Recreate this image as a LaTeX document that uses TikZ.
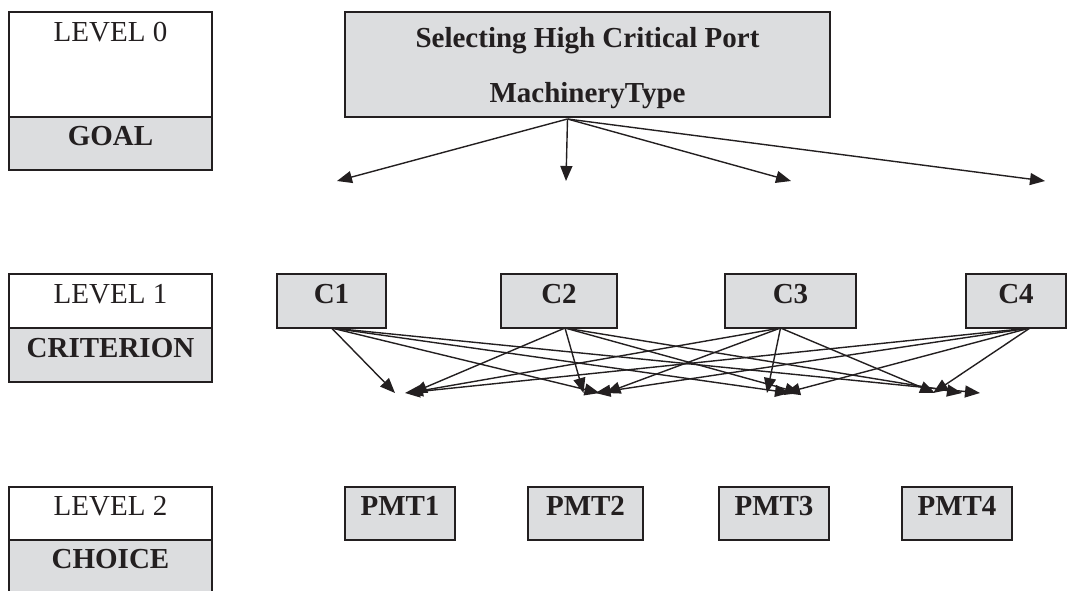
\documentclass[tikz,border=0pt]{standalone}
\usepackage{fontspec}
\setmainfont{Liberation Serif}
\usetikzlibrary{arrows.meta, positioning}
\definecolor{tinta}{HTML}{231F20}
\definecolor{grisbox}{HTML}{DCDDDF}
\tikzset{
  nivel/.style={rectangle, draw=tinta, line width=2pt, fill=white, outer sep=0pt,
    inner sep=0pt, minimum width=203pt, text depth=15pt, text=tinta,
    font=\fontsize{29}{34}\selectfont},
  etiqueta/.style={nivel, fill=grisbox, font=\fontsize{29}{34}\selectfont\bfseries},
  caja/.style={rectangle, draw=tinta, line width=2pt, fill=grisbox, outer sep=0pt,
    inner sep=0pt, text depth=15pt, text=tinta, anchor=north west,
    font=\fontsize{29}{34}\selectfont\bfseries},
  flecha/.style={-{Triangle[length=15pt,width=12pt]}, line width=1.4pt, tinta}
}
\begin{document}
\begin{tikzpicture}[x=1pt, y=-1pt]
  \useasboundingbox (0,0) rectangle (1069,591);

  % --- Niveles (columna izquierda) ---
  \node[nivel, anchor=north west, minimum height=105pt, text depth=66pt] (lvl0) at (9,12) {LEVEL 0};
  \node[etiqueta, below=0pt of lvl0, minimum height=53pt] (goal) {GOAL};
  \node[nivel, anchor=north west, minimum height=54pt] (lvl1) at (9,274) {LEVEL 1};
  \node[etiqueta, below=0pt of lvl1, minimum height=54pt] (criterion) {CRITERION};
  \node[nivel, anchor=north west, minimum height=53pt] (lvl2) at (9,487) {LEVEL 2};
  \node[etiqueta, below=0pt of lvl2, minimum height=53pt] (choice) {CHOICE};

  % --- Meta ---
  \node[caja, minimum width=485pt, minimum height=105pt, text depth=0pt, align=center,
    font=\fontsize{29}{55}\selectfont\bfseries] (meta) at (345,12)
    {Selecting High Critical Port\\MachineryType};

  % --- Criterios ---
  \node[caja, minimum width=109pt, minimum height=54pt] (c1) at (277,274) {C1};
  \node[caja, minimum width=116pt, minimum height=54pt] (c2) at (501,274) {C2};
  \node[caja, minimum width=131pt, minimum height=54pt] (c3) at (725,274) {C3};
  \node[caja, minimum width=100pt, minimum height=54pt] (c4) at (966,274) {C4};

  % --- Alternativas ---
  \node[caja, minimum width=110pt, minimum height=53pt] (pmt1) at (345,487) {PMT1};
  \node[caja, minimum width=115pt, minimum height=53pt] (pmt2) at (528,487) {PMT2};
  \node[caja, minimum width=110pt, minimum height=53pt] (pmt3) at (719,487) {PMT3};
  \node[caja, minimum width=110pt, minimum height=53pt] (pmt4) at (902,487) {PMT4};

  % --- Puntos libres de las flechas ---
  \coordinate (hub) at ([xshift=-20pt,yshift=-2pt]meta.south);
  \coordinate (g1) at (337,181);
  \coordinate (g2) at (566,181);
  \coordinate (g3) at (791,181);
  \coordinate (g4) at (1045,181);
  \coordinate (s1) at (c1.south);
  \coordinate (s2) at ([xshift=6pt]c2.south);
  \coordinate (s3) at ([xshift=-10pt]c3.south);
  \coordinate (s4) at ([xshift=14pt]c4.south);
  \coordinate (in1) at ([yshift=94pt]pmt1.north);
  \coordinate (in2) at ([yshift=94pt]pmt2.north);
  \coordinate (in3) at ([yshift=94pt]pmt3.north);
  \coordinate (in4) at ([yshift=94pt]pmt4.north);

  % --- Meta hacia criterios ---
  \draw[flecha] (hub) -- (g1);
  \draw[flecha] (hub) -- (g2);
  \draw[flecha] (hub) -- (g3);
  \draw[flecha] (hub) -- (g4);

  % --- Criterios hacia alternativas ---
  \draw[flecha] (s1) -- ([xshift=-5pt]in1);
  \draw[flecha] (s1) -- ([xshift=14pt]in2);
  \draw[flecha] (s1) -- ([xshift=16pt]in3);
  \draw[flecha] (s1) -- ([xshift=23pt]in4);
  \draw[flecha] (s2) -- ([xshift=12pt]in1);
  \draw[flecha] (s2) -- ([xshift=-2pt]in2);
  \draw[flecha] (s2) -- ([xshift=26pt]in3);
  \draw[flecha] (s2) -- ([xshift=5pt]in4);
  \draw[flecha] (s3) -- ([xshift=8pt]in1);
  \draw[flecha] (s3) -- ([xshift=20pt]in2);
  \draw[flecha] (s3) -- ([xshift=-7pt]in3);
  \draw[flecha] (s3) -- ([xshift=-22pt]in4);
  \draw[flecha] (s4) -- ([xshift=5pt]in1);
  \draw[flecha] (s4) -- ([xshift=10pt]in2);
  \draw[flecha] (s4) -- ([xshift=11pt]in3);
  \draw[flecha] (s4) -- ([xshift=-24pt]in4);

\end{tikzpicture}
\end{document}
